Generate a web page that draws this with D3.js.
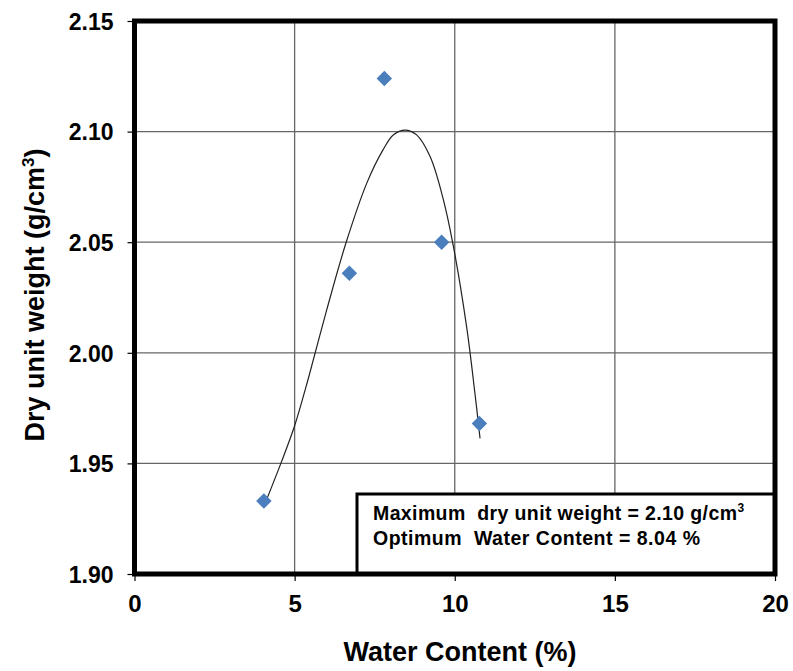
<!DOCTYPE html>
<html>
<head>
<meta charset="utf-8">
<script src="https://cdn.jsdelivr.net/npm/d3@7"></script>
<style>
  body { margin: 0; background: #fff; }
  text { font-family: Arial, "Liberation Sans", sans-serif; font-weight: bold; fill: #000; }
</style>
</head>
<body>
<div class="container"></div>
<script>
// measured points
var waterContent = [4.04, 6.71, 7.8, 9.59, 10.77];
var dryWeight = [1.933, 2.036, 2.124, 2.05, 1.968];

// trendline
var fitX = [4.08, 4.57, 5.0, 5.43, 6.0, 6.6, 7.25, 7.75, 8.08, 8.45, 8.81, 9.23, 9.64, 9.95, 10.37, 10.63, 10.79];
var fitY = [1.932, 1.95, 1.967, 1.9885, 2.0193, 2.0495, 2.0766, 2.0915, 2.0985, 2.1007, 2.0985, 2.0887, 2.0695, 2.0487, 2.0118, 1.9817, 1.9613];

var xTicks = [0, 5, 10, 15, 20];
var yTicks = [1.9, 1.95, 2.0, 2.05, 2.1, 2.15];

var legendLines = ["Maximum  dry unit weight = 2.10 g/cm", "Optimum  Water Content = 8.04 %"];

var margin = { top: 21, right: 18, bottom: 97, left: 134.5 };
var width = 793 - margin.left - margin.right;
var height = 671 - margin.top - margin.bottom;

var svg = d3
  .select(".container")
  .append("svg")
  .attr("width", 793)
  .attr("height", 671);

var g = svg.append("g").attr("transform", `translate(${margin.left},${margin.top})`);

var x = d3.scaleLinear().domain([0, 20]).range([0, width]);
var y = d3.scaleLinear().domain([1.9, 2.15]).range([height, 0]);

// grid
g.selectAll("line.vgrid")
  .data(xTicks.slice(1, -1))
  .enter()
  .append("line")
  .attr("class", "vgrid")
  .attr("x1", function (d) { return x(d); })
  .attr("x2", function (d) { return x(d); })
  .attr("y1", 0)
  .attr("y2", height)
  .attr("stroke", "#666")
  .attr("stroke-width", 1.3);

g.selectAll("line.hgrid")
  .data(yTicks.slice(1, -1))
  .enter()
  .append("line")
  .attr("class", "hgrid")
  .attr("x1", 0)
  .attr("x2", width)
  .attr("y1", function (d) { return y(d); })
  .attr("y2", function (d) { return y(d); })
  .attr("stroke", "#666")
  .attr("stroke-width", 1.3);

// axes
var xAxis = g
  .append("g")
  .attr("transform", `translate(0,${height})`)
  .call(d3.axisBottom(x).tickValues(xTicks).tickSize(7).tickFormat(d3.format("d")));

var yAxis = g
  .append("g")
  .call(d3.axisLeft(y).tickValues(yTicks).tickSize(7).tickFormat(d3.format(".2f")));

xAxis.select(".domain").remove();
yAxis.select(".domain").remove();
xAxis.selectAll("line").attr("stroke", "#000").attr("stroke-width", 1.2);
yAxis.selectAll("line").attr("stroke", "#000").attr("stroke-width", 1.2);

xAxis
  .selectAll("text")
  .attr("font-size", 24)
  .attr("font-family", "Arial, 'Liberation Sans', sans-serif")
  .attr("font-weight", "bold")
  .attr("fill", "#000")
  .attr("dy", null)
  .attr("y", 38);

yAxis
  .selectAll("text")
  .attr("font-size", 23)
  .attr("font-family", "Arial, 'Liberation Sans', sans-serif")
  .attr("font-weight", "bold")
  .attr("fill", "#000")
  .attr("x", -21)
  .attr("dy", "0.36em");

// trendline
var line = d3
  .line()
  .x(function (d) { return x(d[0]); })
  .y(function (d) { return y(d[1]); })
  .curve(d3.curveCatmullRom);

g.append("path")
  .datum(d3.zip(fitX, fitY))
  .attr("d", line)
  .attr("fill", "none")
  .attr("stroke", "#222")
  .attr("stroke-width", 1.2);

// points
var diamond = d3.symbol().type(d3.symbolSquare).size(120);

g.selectAll("path.point")
  .data(d3.zip(waterContent, dryWeight))
  .enter()
  .append("path")
  .attr("class", "point")
  .attr("d", diamond)
  .attr("transform", function (d) {
    return `translate(${x(d[0])},${y(d[1])}) rotate(45)`;
  })
  .attr("fill", "#4a7ebd");

// legend box
var boxLeft = 222.5;
var boxTop = 473;
var legend = g.append("g");

legend
  .append("rect")
  .attr("x", boxLeft)
  .attr("y", boxTop)
  .attr("width", width - boxLeft)
  .attr("height", height - boxTop)
  .attr("fill", "#fff")
  .attr("stroke", "#000")
  .attr("stroke-width", 3);

var t1 = legend
  .append("text")
  .attr("x", boxLeft + 16)
  .attr("y", 499)
  .attr("font-size", 19.5)
  .style("white-space", "pre");
t1.append("tspan").attr("textLength", 364).text(legendLines[0]);
t1.append("tspan").attr("dy", -8).attr("font-size", 12).text("3");

legend
  .append("text")
  .attr("x", boxLeft + 16)
  .attr("y", 524)
  .attr("font-size", 19.5)
  .style("white-space", "pre")
  .attr("textLength", 327)
  .text(legendLines[1]);

// frame
g.append("rect")
  .attr("x", 0)
  .attr("y", 0)
  .attr("width", width)
  .attr("height", height)
  .attr("fill", "none")
  .attr("stroke", "#000")
  .attr("stroke-width", 5);

// titles
svg
  .append("text")
  .attr("x", 460)
  .attr("y", 661)
  .attr("text-anchor", "middle")
  .attr("font-size", 27)
  .text("Water Content (%)");

var yTitle = svg
  .append("text")
  .attr("transform", "translate(44,295) rotate(-90)")
  .attr("text-anchor", "middle")
  .attr("font-size", 27)
  .text("Dry unit weight (g/cm");
yTitle.append("tspan").attr("dy", -10).attr("font-size", 17).text("3");
yTitle.append("tspan").attr("dy", 10).text(")");
</script>
</body>
</html>
